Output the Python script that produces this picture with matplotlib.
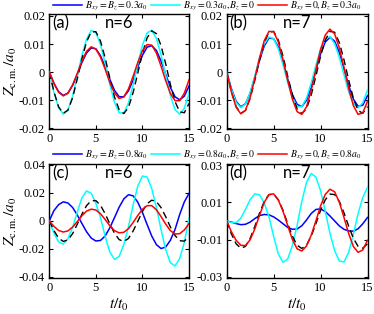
import numpy as np
import matplotlib
matplotlib.use("Agg")
import matplotlib.pyplot as plt

plt.rcParams['font.family'] = ['Liberation Serif', 'DejaVu Serif']
plt.rcParams['mathtext.fontset'] = 'stix'

t = np.arange(0, 15.01, 0.5)

# panel (a) n=6, B=0.3a0
a_blue = [0, -.0040, -.0070, -.0083, -.0075, -.0048, -.0009, .0034, .0068, .0086, .0083, .0058, .0019, -.0026, -.0065, -.0088,
          -.0088, -.0067, -.0029, .0018, .0060, .0089, .0094, .0077, .0039, -.0008, -.0055, -.0088, -.0099, -.0086, -.0050]
a_cyan = [0, -.0073, -.0127, -.0150, -.0135, -.0086, -.0016, .0059, .0118, .0148, .0141, .0098, .0031, -.0044, -.0108, -.0145,
          -.0146, -.0110, -.0046, .0029, .0096, .0140, .0149, .0120, .0061, -.0013, -.0084, -.0134, -.0150, -.0129, -.0075]
a_red = [0, -.0041, -.0072, -.0085, -.0075, -.0046, -.0005, .0039, .0074, .0090, .0082, .0053, .0010, -.0037, -.0075, -.0094,
         -.0089, -.0060, -.0015, .0034, .0076, .0098, .0096, .0068, .0021, -.0031, -.0076, -.0102, -.0102, -.0075, -.0028]
a_black = [0, -.0070, -.0124, -.0147, -.0136, -.0092, -.0025, .0047, .0108, .0143, .0144, .0110, .0050, -.0022, -.0089, -.0134,
           -.0148, -.0126, -.0073, -.0004, .0067, .0122, .0147, .0137, .0094, .0029, -.0044, -.0105, -.0142, -.0145, -.0112]

# panel (b) n=7, B=0.3a0
b_blue = [0, -.0059, -.0104, -.0124, -.0113, -.0075, -.0018, .0042, .0093, .0121, .0119, .0089, .0037, -.0025, -.0080, -.0115,
          -.0123, -.0101, -.0054, .0006, .0065, .0107, .0124, .0110, .0070, .0012, -.0048, -.0097, -.0122, -.0118, -.0084]
b_cyan = [0, -.0062, -.0108, -.0127, -.0114, -.0073, -.0013, .0050, .0100, .0125, .0119, .0083, .0026, -.0037, -.0091, -.0123,
          -.0123, -.0093, -.0039, .0024, .0082, .0119, .0126, .0101, .0052, -.0011, -.0071, -.0113, -.0127, -.0109, -.0064]
b_red = [0, -.0071, -.0125, -.0149, -.0136, -.0090, -.0022, .0051, .0112, .0145, .0144, .0107, .0044, -.0030, -.0097, -.0141,
         -.0151, -.0124, -.0066, .0008, .0080, .0132, .0153, .0136, .0086, .0015, -.0059, -.0120, -.0151, -.0145, -.0104]
b_black = [0, -.0070, -.0123, -.0147, -.0137, -.0094, -.0029, .0043, .0105, .0142, .0145, .0114, .0057, -.0015, -.0082, -.0131,
           -.0148, -.0131, -.0082, -.0015, .0057, .0114, .0145, .0142, .0105, .0043, -.0029, -.0094, -.0137, -.0147, -.0123]

# panel (c) n=6, B=0.8a0
c_blue = [0, .0073, .0115, .0135, .0127, .0095, .0042, -.0019, -.0078, -.0123, -.0144, -.0140, -.0108, -.0050, .0023, .0097,
          .0156, .0186, .0178, .0133, .0060, -.0026, -.0109, -.0170, -.0198, -.0187, -.0139, -.0062, .0045, .0135, .0195]
c_cyan = [0, -.0088, -.0150, -.0166, -.0128, -.0048, .0061, .0164, .0213, .0196, .0126, .0022, -.0112, -.0223, -.0275, -.0254,
          -.0169, -.0042, .0113, .0247, .0319, .0312, .0230, .0095, -.0063, -.0206, -.0299, -.0322, -.0269, -.0153, .0020]
c_red = [0, -.0040, -.0069, -.0080, -.0072, -.0045, -.0006, .0036, .0069, .0083, .0077, .0050, .0009, -.0035, -.0070, -.0086,
         -.0082, -.0056, -.0012, .0038, .0082, .0108, .0108, .0079, .0030, -.0024, -.0070, -.0094, -.0092, -.0065, -.0020]
c_black = [0, -.0070, -.0124, -.0147, -.0136, -.0092, -.0025, .0047, .0108, .0143, .0144, .0110, .0050, -.0022, -.0089, -.0134,
           -.0148, -.0126, -.0073, -.0004, .0067, .0122, .0147, .0137, .0094, .0029, -.0044, -.0105, -.0142, -.0145, -.0112]

# panel (d) n=7, B=0.8a0
d_blue = [0, -.0006, -.0014, -.0020, -.0018, -.0006, .0013, .0029, .0035, .0033, .0022, .0005, -.0015, -.0035, -.0045, -.0043,
          -.0026, .0005, .0040, .0062, .0065, .0051, .0027, .0000, -.0027, -.0045, -.0054, -.0055, -.0042, -.0015, .0019]
d_cyan = [0, -.0008, -.0009, .0015, .0062, .0115, .0146, .0141, .0096, .0024, -.0083, -.0178, -.0223, -.0205, -.0132, -.0024,
          .0105, .0208, .0256, .0237, .0163, .0050, -.0066, -.0160, -.0216, -.0221, -.0168, -.0070, .0040, .0127, .0181]
d_red = [0, -.0058, -.0104, -.0131, -.0133, -.0101, -.0042, .0031, .0100, .0142, .0146, .0113, .0052, -.0025, -.0100, -.0150,
         -.0162, -.0135, -.0077, 0, .0081, .0143, .0171, .0157, .0101, .0018, -.0069, -.0138, -.0169, -.0156, -.0104]
d_black = [0, -.0070, -.0123, -.0147, -.0137, -.0094, -.0029, .0043, .0105, .0142, .0145, .0114, .0057, -.0015, -.0082, -.0131,
           -.0148, -.0131, -.0082, -.0015, .0057, .0114, .0145, .0142, .0105, .0043, -.0029, -.0094, -.0137, -.0147, -.0123]

labels_top = [r'$B_{xy}=B_z=0.3a_0$', r'$B_{xy}=0.3a_0, B_z=0$', r'$B_{xy}=0, B_z=0.3a_0$']
labels_bot = [r'$B_{xy}=B_z=0.8a_0$', r'$B_{xy}=0.8a_0, B_z=0$', r'$B_{xy}=0, B_z=0.8a_0$']

panels = [
    ('(a)', 'n=6', a_blue, a_cyan, a_red, a_black, [-0.02, -0.01, 0, 0.01, 0.02], ['-0.02', '-0.01', '0', '0.01', '0.02'], (-0.0204, 0.0207)),
    ('(b)', 'n=7', b_blue, b_cyan, b_red, b_black, [-0.02, -0.01, 0, 0.01, 0.02], ['-0.02', '-0.01', '0', '0.01', '0.02'], (-0.0204, 0.0207)),
    ('(c)', 'n=6', c_blue, c_cyan, c_red, c_black, [-0.04, -0.02, 0, 0.02, 0.04], ['-0.04', '-0.02', '0', '0.02', '0.04'], (-0.041, 0.0405)),
    ('(d)', 'n=7', d_blue, d_cyan, d_red, d_black, [-0.03, -0.01, 0.01, 0.03], ['-0.03', '-0.01', '0.01', '0.03'], (-0.0309, 0.0307)),
]

W, H = 374, 314
fig = plt.figure(figsize=(W / 100, H / 100), dpi=100)
boxes = [(49.3, 14, 189, 129.3), (226.7, 14, 367.5, 129.3),
         (49.3, 164, 189, 278.3), (226.7, 164, 367.5, 278.3)]

axes = []
for (lab, nlab, yb, yc, yr, yk, yt, ytl, yl), (x0, y0, x1, y1) in zip(panels, boxes):
    ax = fig.add_axes([x0 / W, 1 - y1 / H, (x1 - x0) / W, (y1 - y0) / H])
    lb, = ax.plot(t, yb, color='#0000ff', lw=1.1, zorder=3)
    lc, = ax.plot(t, yc, color='#00ffff', lw=1.1, zorder=3)
    lk, = ax.plot(t, yk, color='black', lw=1.0, ls=(0, (5, 3)), zorder=4)
    lr, = ax.plot(t, yr, color='#ff0000', lw=1.1, zorder=5)
    ax.set_xlim(0, 15)
    ax.set_ylim(*yl)
    ax.set_xticks([0, 5, 10, 15])
    ax.set_xticklabels(['0', '5', '10', '15'])
    ax.set_yticks(yt)
    ax.set_yticklabels(ytl)
    ax.tick_params(direction='in', top=True, right=True, length=3, width=0.8, labelsize=9, pad=3)
    for s in ax.spines.values():
        s.set_linewidth(1.0)
    ax.text(0.02, 0.99, lab, transform=ax.transAxes, ha='left', va='top', fontsize=12, family=['Lato', 'DejaVu Sans'])
    ax.text(0.5, 0.99, nlab, transform=ax.transAxes, ha='center', va='top', fontsize=12, family=['Lato', 'DejaVu Sans'])
    axes.append((ax, [lb, lc, lr]))

axes[0][0].set_ylabel(r'$Z_{\rm c.m.}/a_0$', fontsize=11, labelpad=0)
axes[2][0].set_ylabel(r'$Z_{\rm c.m.}/a_0$', fontsize=11, labelpad=0)
axes[2][0].set_xlabel(r'$t/t_0$', fontsize=11, labelpad=2)
axes[3][0].set_xlabel(r'$t/t_0$', fontsize=11, labelpad=2)

leg_kw = dict(ncol=3, frameon=False, fontsize=7, handlelength=3.0, handletextpad=0.3,
              columnspacing=0.3, borderaxespad=0, borderpad=0, loc='center')
fig.legend(axes[0][1], labels_top, bbox_to_anchor=(207 / W, 1 - 6.5 / H), **leg_kw)
fig.legend(axes[2][1], labels_bot, bbox_to_anchor=(207 / W, 1 - 155.5 / H), **leg_kw)

fig.savefig('out.png', dpi=100)
